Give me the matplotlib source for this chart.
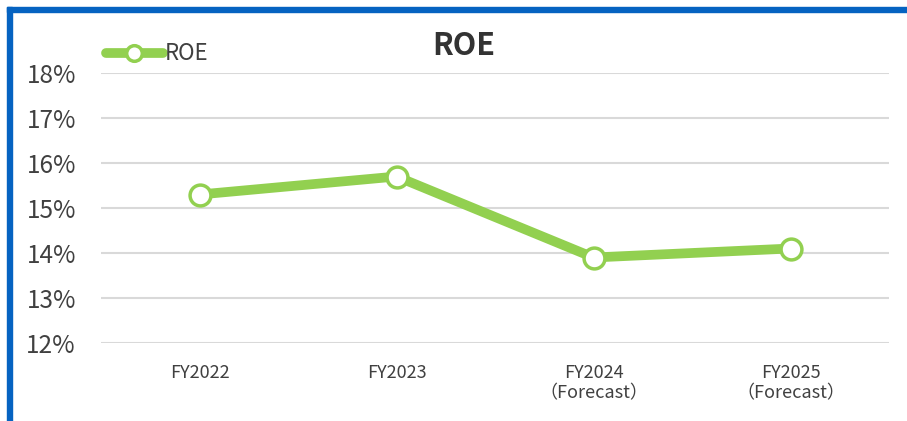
import matplotlib
matplotlib.use("Agg")
import matplotlib.pyplot as plt
from matplotlib.patches import Rectangle
from matplotlib.ticker import FuncFormatter

categories = ["FY2022", "FY2023", "FY2024\n（Forecast）", "FY2025\n（Forecast）"]
roe = [15.3, 15.7, 13.9, 14.1]
yticks = [12, 13, 14, 15, 16, 17, 18]

FONT = ["Noto Sans CJK JP", "DejaVu Sans"]
plt.rcParams['font.family'] = FONT

W, H = 907, 421
fig = plt.figure(figsize=(W / 100, H / 100), dpi=100)
ax = fig.add_axes([101 / W, 1 - 343 / H, (889 - 101) / W, (343 - 73) / H])

green = "#92D050"
x = list(range(len(categories)))
ax.plot(x, roe, color=green, lw=7, marker="o", markersize=15,
        markerfacecolor="white", markeredgecolor=green, markeredgewidth=2.5,
        solid_capstyle="round", label="ROE", zorder=3)

ax.set_xlim(-0.5, len(categories) - 0.5)
ax.set_ylim(12, 18)
ax.set_yticks(yticks)
ax.yaxis.set_major_formatter(FuncFormatter(lambda v, p: f"{v:.0f}%"))
ax.set_xticks(x)
ax.set_xticklabels(categories, fontsize=13, color="#404040", linespacing=1.2)
ax.tick_params(axis="y", labelsize=17.5, labelcolor="#404040", length=0, pad=18)
ax.tick_params(axis="x", length=0, pad=15)
for s in ax.spines.values():
    s.set_visible(False)
ax.grid(axis="y", color="#d9d9d9", lw=1.5)
ax.set_axisbelow(True)

fig.text(464 / W, 1 - 46 / H, "ROE", ha="center", va="center",
         fontsize=22, fontweight="bold", color="#333333")

leg = ax.legend(loc="center left", bbox_to_anchor=(106 / W, 1 - 54 / H),
                bbox_transform=fig.transFigure, frameon=False, fontsize=16,
                handlelength=2.55, handletextpad=0.1, borderpad=0, borderaxespad=0,
                markerscale=0.75)
for t in leg.get_texts():
    t.set_color("#404040")
for h in leg.get_lines():
    h.set_solid_capstyle("round")

# blue frame (top, left)
blue = "#0563C1"
fig.patches.append(Rectangle((7 / W, -0.1), 5 / W, 1.1 - 7 / H, transform=fig.transFigure,
                             color=blue, zorder=10))
fig.patches.append(Rectangle((7 / W, 1 - 12 / H), 1, 5 / H, transform=fig.transFigure,
                             color=blue, zorder=10))

fig.savefig("out.png", dpi=100)
